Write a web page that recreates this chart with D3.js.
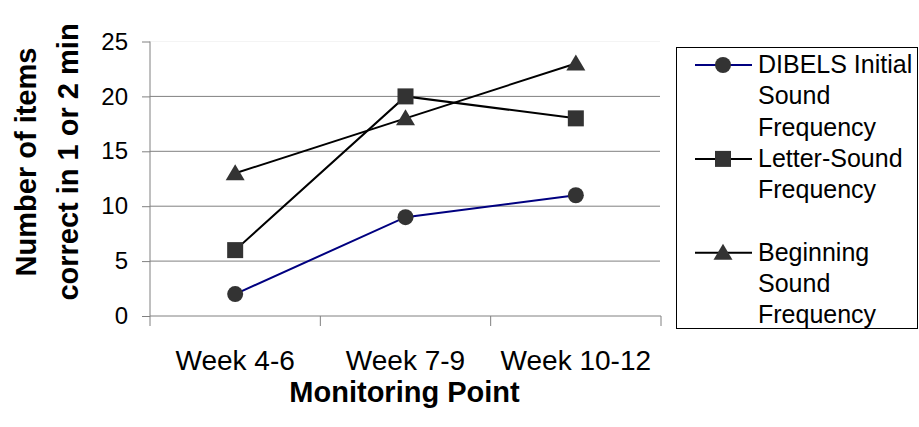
<!DOCTYPE html>
<html>
<head>
<meta charset="utf-8">
<script src="https://cdn.jsdelivr.net/npm/d3@7"></script>
<style>
  html, body { margin: 0; padding: 0; background: #fff; }
  svg { display: block; font-family: "Liberation Sans", Arial, sans-serif; }
</style>
</head>
<body>
<svg id="chart" width="919" height="427"></svg>
<script>
// Monitoring points along the x axis
const categories = ["Week 4-6", "Week 7-9", "Week 10-12"];

// Items correct at each monitoring point
const dibelsInitialSound = [2, 9, 11];
const letterSound = [6, 20, 18];
const beginningSound = [13, 18, 23];

const yTicks = [0, 5, 10, 15, 20, 25];

const seriesNames = [
  ["DIBELS Initial", "Sound", "Frequency"],
  ["Letter-Sound", "Frequency"],
  ["Beginning", "Sound", "Frequency"]
];

const series = [
  { lines: seriesNames[0], values: dibelsInitialSound, color: "#000080", marker: "circle", legendRow: 0 },
  { lines: seriesNames[1], values: letterSound, color: "#000000", marker: "square", legendRow: 3 },
  { lines: seriesNames[2], values: beginningSound, color: "#000000", marker: "triangle", legendRow: 6 }
];

const svg = d3.select("#chart");
const plot = { left: 150, right: 661, top: 41.5, bottom: 316 };

const x = d3.scaleBand().domain(categories).range([plot.left, plot.right]);
const y = d3.scaleLinear().domain([0, 25]).range([plot.bottom, plot.top]);

// Horizontal gridlines
svg.append("g").selectAll("line")
  .data(yTicks.filter(d => d > 0))
  .join("line")
  .attr("x1", plot.left).attr("x2", plot.right - 1)
  .attr("y1", d => y(d)).attr("y2", d => y(d))
  .attr("stroke", d => d === 25 ? "#f4f4f4" : "#808080")
  .attr("stroke-width", 1);

// Y axis
const yAxis = svg.append("g")
  .attr("transform", `translate(${plot.left},0)`)
  .call(d3.axisLeft(y).tickValues(yTicks).tickSize(8).tickPadding(14));
yAxis.select(".domain").attr("stroke", "#808080").attr("d", `M0,${plot.top}V${plot.bottom}`);
yAxis.selectAll(".tick line").attr("stroke", "#808080");
yAxis.selectAll(".tick text")
  .attr("font-size", 24).attr("fill", "#000")
  .attr("font-family", "Liberation Sans, Arial, sans-serif");

// X axis with ticks at band boundaries
const xAxisG = svg.append("g").attr("transform", `translate(0,${plot.bottom})`);
xAxisG.append("line")
  .attr("x1", plot.left).attr("x2", plot.right)
  .attr("stroke", "#808080");
const bounds = categories.map(c => x(c)).concat([x(categories[categories.length - 1]) + x.bandwidth()]);
xAxisG.selectAll("line.tk").data(bounds).join("line")
  .attr("class", "tk")
  .attr("x1", d => d).attr("x2", d => d)
  .attr("y1", 0).attr("y2", 10)
  .attr("stroke", "#808080");
xAxisG.selectAll("text").data(categories).join("text")
  .attr("x", d => x(d) + x.bandwidth() / 2)
  .attr("y", 54)
  .attr("text-anchor", "middle")
  .attr("font-size", 28)
  .text(d => d);

// Axis titles
svg.append("text")
  .attr("x", (plot.left + plot.right) / 2 - 1)
  .attr("y", 402)
  .attr("text-anchor", "middle")
  .attr("font-size", 29)
  .attr("font-weight", "bold")
  .text("Monitoring Point");

const yTitle = svg.append("text")
  .attr("transform", "translate(0,162) rotate(-90)")
  .attr("text-anchor", "middle")
  .attr("font-size", 29)
  .attr("font-weight", "bold");
yTitle.append("tspan").attr("x", 0).attr("y", 36).text("Number of items");
yTitle.append("tspan").attr("x", 0).attr("y", 78).text("correct in 1  or 2 min");

// Marker shapes
function drawMarker(sel, type) {
  if (type === "circle") {
    sel.append("circle").attr("r", 8).attr("fill", "#333333");
  } else if (type === "square") {
    sel.append("rect").attr("x", -8).attr("y", -8).attr("width", 16).attr("height", 16).attr("fill", "#333333");
  } else {
    sel.append("path").attr("d", "M0,-9L9.5,7L-9.5,7Z").attr("fill", "#333333");
  }
}

const line = d3.line()
  .x((d, i) => x(categories[i]) + x.bandwidth() / 2)
  .y(d => y(d));

series.forEach(s => {
  svg.append("path")
    .attr("d", line(s.values))
    .attr("fill", "none")
    .attr("stroke", s.color)
    .attr("stroke-width", 2);
  s.values.forEach((v, i) => {
    const g = svg.append("g")
      .attr("transform", `translate(${x(categories[i]) + x.bandwidth() / 2},${y(v)})`);
    drawMarker(g, s.marker);
  });
});

// Legend
const legend = svg.append("g");
legend.append("rect")
  .attr("x", 676.5).attr("y", 47.5)
  .attr("width", 241).attr("height", 281)
  .attr("fill", "#fff")
  .attr("stroke", "#000").attr("stroke-width", 1);

const rowH = 31.3;
const firstRow = 65;
series.forEach(s => {
  const cy = firstRow + s.legendRow * rowH;
  legend.append("line")
    .attr("x1", 695).attr("x2", 752)
    .attr("y1", cy).attr("y2", cy)
    .attr("stroke", s.color).attr("stroke-width", 2);
  drawMarker(legend.append("g").attr("transform", `translate(723,${cy})`), s.marker);
  s.lines.forEach((t, k) => {
    legend.append("text")
      .attr("x", 758)
      .attr("y", cy + k * rowH + 8)
      .attr("font-size", 25)
      .text(t);
  });
});
</script>
</body>
</html>
